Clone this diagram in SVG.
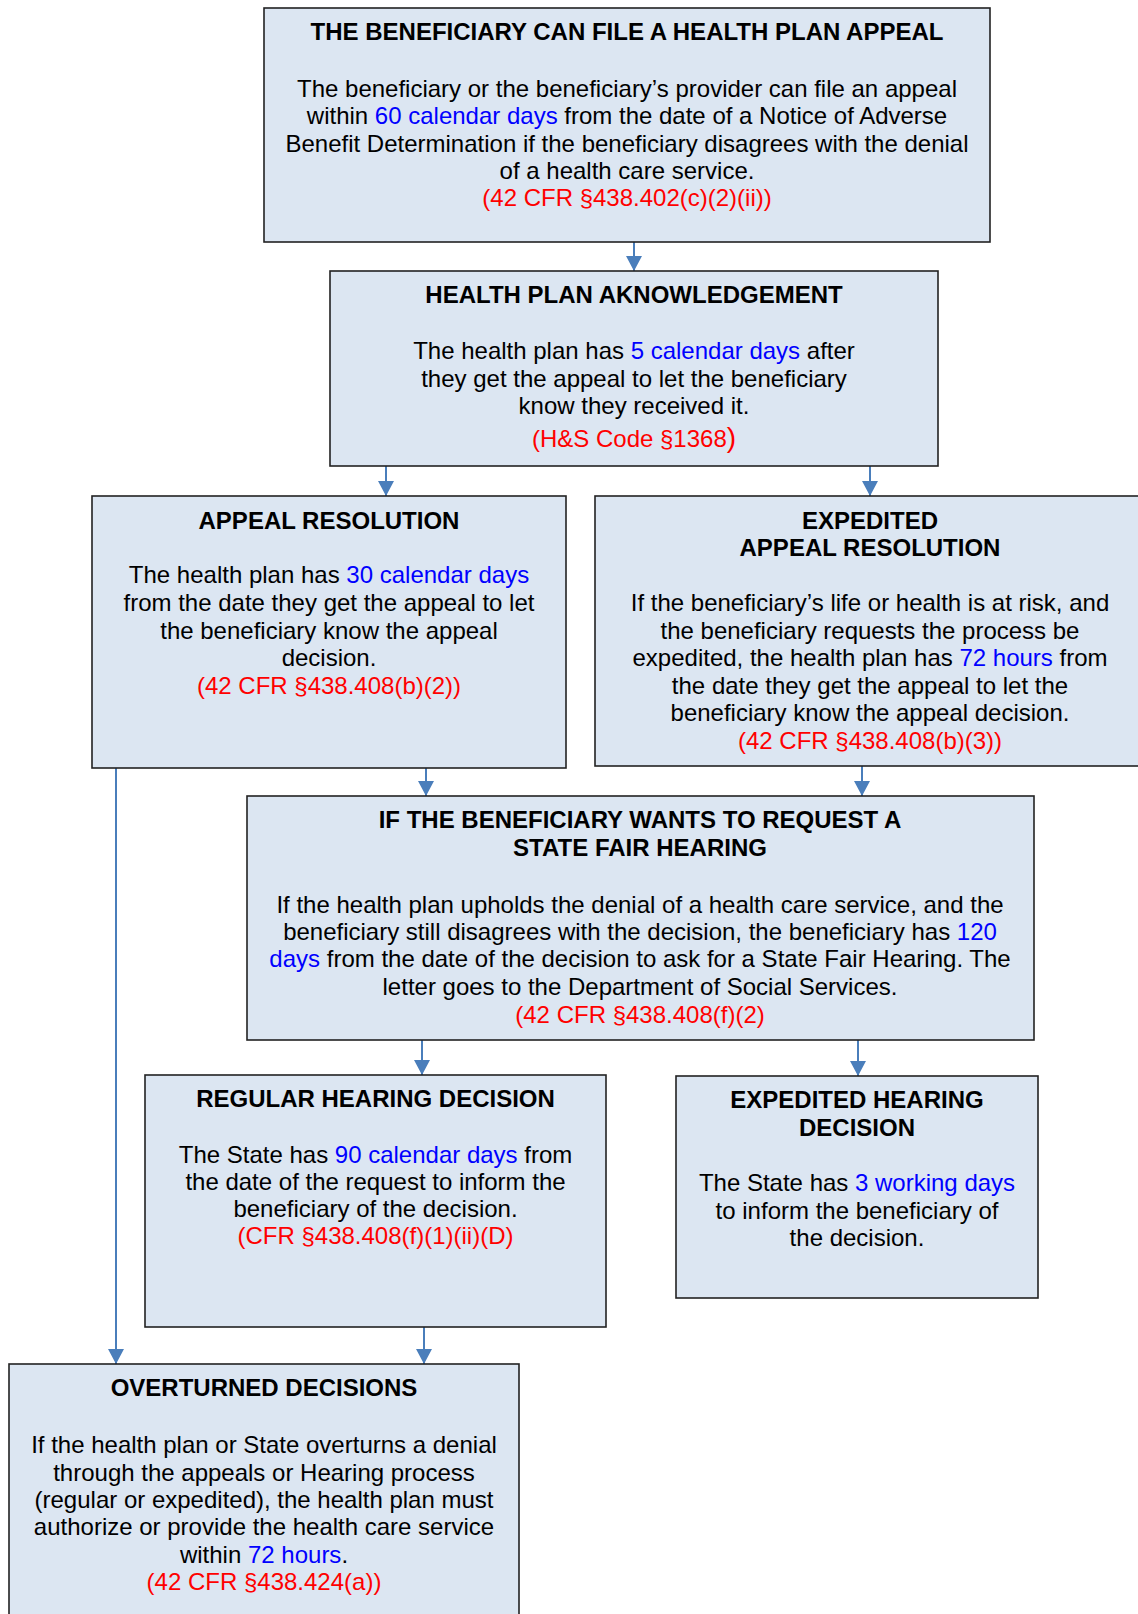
<svg xmlns="http://www.w3.org/2000/svg" width="1138" height="1614" viewBox="0 0 1138 1614">
<style>
.box{fill:#dce6f2;stroke:#222;stroke-width:1.6}
text{font-family:"Liberation Sans",Arial,sans-serif;font-size:24px;fill:#000;text-anchor:middle}
.h{font-weight:bold}
.b{fill:#0000ff}
.r{fill:#ff0000}
.c{stroke:#4a7ebb;stroke-width:2;fill:none;marker-end:url(#ah)}
</style>
<defs>
<marker id="ah" markerWidth="15" markerHeight="16" refX="15" refY="8" orient="auto" markerUnits="userSpaceOnUse" viewBox="0 0 15 16">
<path d="M0,0 L15,8 L0,16 Z" fill="#4a7ebb"/>
</marker>
</defs>
<g id="connectors">
<line class="c" x1="634" y1="242" x2="634" y2="271"/>
<line class="c" x1="386" y1="466" x2="386" y2="496"/>
<line class="c" x1="870" y1="466" x2="870" y2="496"/>
<line class="c" x1="426" y1="768" x2="426" y2="796"/>
<line class="c" x1="862" y1="766" x2="862" y2="796"/>
<line class="c" x1="422" y1="1040" x2="422" y2="1075"/>
<line class="c" x1="858" y1="1040" x2="858" y2="1076"/>
<line class="c" x1="116" y1="768" x2="116" y2="1364"/>
<line class="c" x1="424" y1="1327" x2="424" y2="1364"/>
</g>
<g id="n1">
<rect class="box" x="264" y="8" width="726" height="234"/>
<text class="h" x="627" y="40">THE BENEFICIARY CAN FILE A HEALTH PLAN APPEAL</text>
<text x="627" y="96.5">The beneficiary or the beneficiary’s provider can file an appeal</text>
<text x="627" y="124">within <tspan class="b">60 calendar days</tspan> from the date of a Notice of Adverse</text>
<text x="627" y="151.5">Benefit Determination if the beneficiary disagrees with the denial</text>
<text x="627" y="179">of a health care service.</text>
<text class="r" x="627" y="206">(42 CFR §438.402(c)(2)(ii))</text>
</g>
<g id="n2">
<rect class="box" x="330" y="271" width="608" height="195"/>
<text class="h" x="634" y="302.5">HEALTH PLAN AKNOWLEDGEMENT</text>
<text x="634" y="359">The health plan has <tspan class="b">5 calendar days</tspan> after</text>
<text x="634" y="386.5">they get the appeal to let the beneficiary</text>
<text x="634" y="414">know they received it.</text>
<text class="r" x="634" y="446.5">(H&amp;S Code §1368<tspan style="font-size:28px">)</tspan></text>
</g>
<g id="n3">
<rect class="box" x="92" y="496" width="474" height="272"/>
<text class="h" x="329" y="529">APPEAL RESOLUTION</text>
<text x="329" y="583">The health plan has <tspan class="b">30 calendar days</tspan></text>
<text x="329" y="611">from the date they get the appeal to let</text>
<text x="329" y="638.5">the beneficiary know the appeal</text>
<text x="329" y="666">decision.</text>
<text class="r" x="329" y="694">(42 CFR §438.408(b)(2))</text>
</g>
<g id="n4">
<rect class="box" x="595" y="496" width="550" height="270"/>
<text class="h" x="870" y="529">EXPEDITED</text>
<text class="h" x="870" y="556">APPEAL RESOLUTION</text>
<text x="870" y="611">If the beneficiary’s life or health is at risk, and</text>
<text x="870" y="638.5">the beneficiary requests the process be</text>
<text x="870" y="666">expedited, the health plan has <tspan class="b">72 hours</tspan> from</text>
<text x="870" y="694">the date they get the appeal to let the</text>
<text x="870" y="721">beneficiary know the appeal decision.</text>
<text class="r" x="870" y="749">(42 CFR §438.408(b)(3))</text>
</g>
<g id="n5">
<rect class="box" x="247" y="796" width="787" height="244"/>
<text class="h" x="640" y="828">IF THE BENEFICIARY WANTS TO REQUEST A</text>
<text class="h" x="640" y="856">STATE FAIR HEARING</text>
<text x="640" y="912.5">If the health plan upholds the denial of a health care service, and the</text>
<text x="640" y="939.5">beneficiary still disagrees with the decision, the beneficiary has <tspan class="b">120</tspan></text>
<text x="640" y="967"><tspan class="b">days</tspan> from the date of the decision to ask for a State Fair Hearing. The</text>
<text x="640" y="995">letter goes to the Department of Social Services.</text>
<text class="r" x="640" y="1022.5">(42 CFR §438.408(f)(2)</text>
</g>
<g id="n6">
<rect class="box" x="145" y="1075" width="461" height="252"/>
<text class="h" x="375.5" y="1107">REGULAR HEARING DECISION</text>
<text x="375.5" y="1162.5">The State has <tspan class="b">90 calendar days</tspan> from</text>
<text x="375.5" y="1190">the date of the request to inform the</text>
<text x="375.5" y="1217">beneficiary of the decision.</text>
<text class="r" x="375.5" y="1244">(CFR §438.408(f)(1)(ii)(D)</text>
</g>
<g id="n7">
<rect class="box" x="676" y="1076" width="362" height="222"/>
<text class="h" x="857" y="1108">EXPEDITED HEARING</text>
<text class="h" x="857" y="1136">DECISION</text>
<text x="857" y="1191">The State has <tspan class="b">3 working days</tspan></text>
<text x="857" y="1219">to inform the beneficiary of</text>
<text x="857" y="1246">the decision.</text>
</g>
<g id="n8">
<rect class="box" x="9" y="1364" width="510" height="260"/>
<text class="h" x="264" y="1396">OVERTURNED DECISIONS</text>
<text x="264" y="1453">If the health plan or State overturns a denial</text>
<text x="264" y="1480.5">through the appeals or Hearing process</text>
<text x="264" y="1507.5">(regular or expedited), the health plan must</text>
<text x="264" y="1535">authorize or provide the health care service</text>
<text x="264" y="1563">within <tspan class="b">72 hours</tspan>.</text>
<text class="r" x="264" y="1590">(42 CFR §438.424(a))</text>
</g>
</svg>
